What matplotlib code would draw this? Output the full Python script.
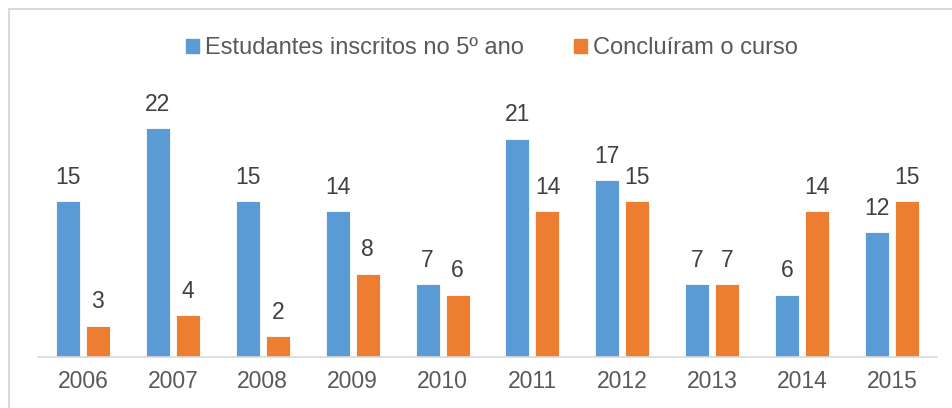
import matplotlib
matplotlib.use("Agg")
import matplotlib.pyplot as plt
import numpy as np
from matplotlib.lines import Line2D
from matplotlib.patches import Rectangle

years = ["2006", "2007", "2008", "2009", "2010", "2011", "2012", "2013", "2014", "2015"]
inscritos = [15, 22, 15, 14, 7, 21, 17, 7, 6, 12]
concluiram = [3, 4, 2, 8, 6, 14, 15, 7, 14, 15]
series_names = ["Estudantes inscritos no 5º ano", "Concluíram o curso"]

plt.rcParams['font.family'] = ['Liberation Sans', 'DejaVu Sans']

W, H = 953, 408
fig = plt.figure(figsize=(W / 100, H / 100), dpi=100)
ax = fig.add_axes([38 / W, (H - 357) / H, (937 - 38) / W, (357 - 97) / H])

blue = "#5B9BD5"
orange = "#ED7D31"
x = np.arange(len(years))
off = 15 / 89.9
w = 24 / 89.9
b1 = ax.bar(x - off, inscritos, w, color=blue, edgecolor="white", linewidth=0.6, label=series_names[0])
b2 = ax.bar(x + off, concluiram, w, color=orange, edgecolor="white", linewidth=0.6, label=series_names[1])

for bars, vals in ((b1, inscritos), (b2, concluiram)):
    for r, v in zip(bars, vals):
        ax.annotate(str(v), (r.get_x() + r.get_width() / 2, v), xytext=(0, 9),
                    textcoords="offset points", ha="center", va="bottom",
                    fontsize=16.5, color="#404040")

ax.set_xlim(-0.5, len(years) - 0.5)
ax.set_ylim(0, 25)
ax.set_xticks(x)
ax.set_xticklabels(years, fontsize=16.5, color="#595959")
ax.tick_params(axis="x", length=0, pad=9)
ax.set_yticks([])
for s in ["top", "right", "left"]:
    ax.spines[s].set_visible(False)
ax.spines["bottom"].set_color("#D9D9D9")
ax.spines["bottom"].set_linewidth(1.2)

# legend
handles = [Rectangle((0, 0), 1, 1, color=blue), Rectangle((0, 0), 1, 1, color=orange)]
fig.legend(handles, series_names, loc="center", bbox_to_anchor=(492 / W, (H - 48) / H),
           ncol=2, frameon=False, fontsize=17, labelcolor="#595959",
           handlelength=0.55, handleheight=0.55, handletextpad=0.25, columnspacing=2.1,
           borderpad=0, borderaxespad=0)

# outer border (top and left visible)
fig.add_artist(Line2D([9 / W, 9 / W], [0, (H - 9) / H], color="#D9D9D9", lw=1.5, transform=fig.transFigure))
fig.add_artist(Line2D([9 / W, 1], [(H - 9) / H, (H - 9) / H], color="#D9D9D9", lw=1.5, transform=fig.transFigure))

fig.savefig("out.png", dpi=100)
